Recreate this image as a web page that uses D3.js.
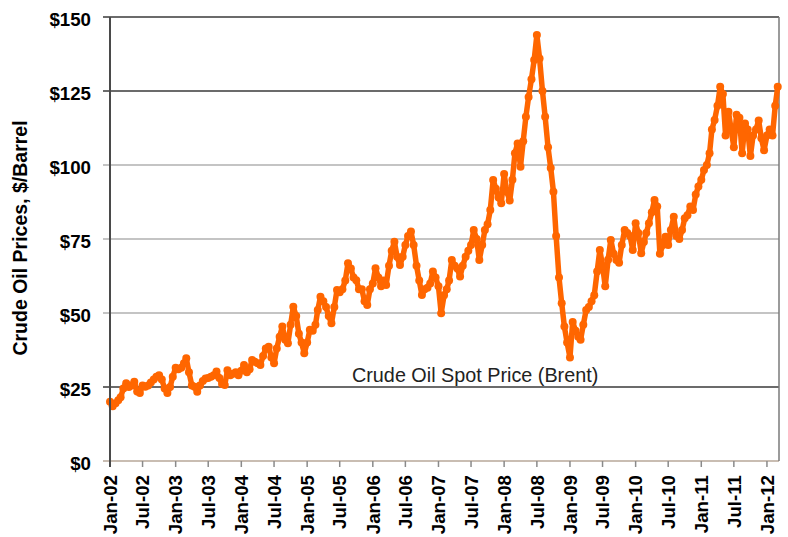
<!DOCTYPE html>
<html>
<head>
<meta charset="utf-8">
<script src="https://cdn.jsdelivr.net/npm/d3@7"></script>
<style>
body { margin: 0; background: #fff; }
text { font-family: Arial, "Liberation Sans", sans-serif; fill: #000; }
</style>
</head>
<body>
<div id="chart"></div>
<script>
var p2002 = [20.0, 18.5, 19.5, 20.5, 21.5, 24.5, 26.3, 25.0, 25.5, 26.8, 23.5, 23.0,
             25.5, 25.1, 25.5, 26.5, 27.5, 28.5, 29.0, 27.5, 24.5, 23.0, 25.0, 28.5];
var p2003 = [31.5, 31.0, 31.5, 33.0, 34.7, 30.0, 25.5, 25.1, 23.4, 25.5, 27.0, 27.9,
             28.0, 28.5, 29.0, 30.2, 28.0, 26.0, 25.7, 30.7, 29.0, 29.5, 30.0, 29.0];
var p2004 = [30.5, 32.4, 30.0, 31.0, 34.1, 33.5, 33.0, 32.4, 35.5, 38.0, 38.6, 35.0,
             33.0, 38.0, 42.0, 45.4, 41.0, 39.8, 46.0, 52.1, 49.0, 43.0, 40.0, 36.4];
var p2005 = [40.0, 44.3, 44.0, 46.0, 51.0, 55.5, 54.0, 52.0, 49.0, 46.5, 52.0, 57.8,
             57.0, 58.0, 61.0, 66.8, 65.0, 62.0, 61.1, 58.0, 58.0, 54.0, 52.7, 58.0];
var p2006 = [60.0, 65.1, 62.0, 59.0, 61.0, 59.5, 66.0, 71.0, 74.1, 69.0, 66.2, 69.0,
             73.0, 76.0, 77.5, 73.0, 66.0, 61.0, 56.1, 58.0, 58.5, 60.0, 64.0, 62.0];
var p2007 = [59.0, 49.9, 56.0, 58.0, 61.0, 67.9, 66.0, 65.0, 62.3, 66.0, 69.0, 71.0,
             73.0, 78.0, 75.0, 67.9, 73.0, 78.0, 80.0, 84.8, 94.9, 92.0, 89.0, 87.1];
var p2008 = [97.0, 91.0, 88.0, 95.0, 104.0, 107.3, 99.4, 108.0, 116.3, 123.0, 129.0, 135.5,
             143.9, 136.0, 125.0, 116.3, 106.0, 99.0, 91.0, 76.0, 62.0, 53.3, 45.4, 40.0];
var p2009 = [35.0, 47.0, 44.0, 42.0, 41.0, 46.0, 51.0, 52.0, 54.0, 56.0, 64.0, 71.3,
             66.0, 59.0, 68.0, 74.7, 70.0, 67.9, 67.0, 73.0, 78.0, 77.0, 76.0, 71.3];
var p2010 = [80.3, 77.0, 70.2, 74.0, 77.0, 80.3, 84.0, 88.2, 86.0, 70.0, 73.0, 75.8,
             73.0, 78.0, 82.5, 76.0, 75.0, 78.0, 82.0, 83.0, 86.0, 84.8, 90.0, 92.7];
var p2011 = [95.0, 98.3, 100.0, 104.0, 112.0, 115.2, 120.0, 126.4, 124.0, 110.0, 118.0, 112.0,
             106.0, 117.0, 116.0, 104.0, 114.0, 112.0, 103.0, 110.0, 112.0, 115.0, 109.0, 105.0];
var p2012 = [110.0, 112.0, 110.0, 120.0, 126.4];

var prices = [].concat(p2002, p2003, p2004, p2005, p2006, p2007, p2008, p2009, p2010, p2011, p2012);
var startDate = new Date(2002, 0, 1); // first reading
var endDate = new Date(2012, 2, 8); // right edge of the date axis
var yTicks = [0, 25, 50, 75, 100, 125, 150];
var yTitle = "Crude Oil Prices, $/Barrel";
var seriesLabel = "Crude Oil Spot Price (Brent)";

var svgWidth = 788;
var svgHeight = 537;
var chartMargin = {top: 17, right: 9, bottom: 76, left: 110};
var chartWidth = svgWidth - chartMargin.left - chartMargin.right;
var chartHeight = svgHeight - chartMargin.top - chartMargin.bottom;

var data = prices.map(function(p, i) { // pair every price with its date
    var d = d3.timeMonth.offset(startDate, Math.floor(i / 2));
    if (i % 2) d = new Date(d.getFullYear(), d.getMonth(), 16);
    return {date: d, price: p};
});

var svg = d3.select("#chart")
    .append("svg")
    .attr("width", svgWidth)
    .attr("height", svgHeight);

var chartGroup = svg.append("g")
    .attr("transform", `translate(${chartMargin.left}, ${chartMargin.top})`);

var xScale = d3.scaleTime()
    .domain([startDate, endDate])
    .range([0, chartWidth]);

var yScale = d3.scaleLinear()
    .domain([0, 150])
    .range([chartHeight, 0]);

var darkLines = [25, 125, 150]; // these grid lines are drawn darker in the original

// horizontal grid lines plus the short ticks left of the axis
chartGroup.append("g")
    .selectAll("line")
    .data(yTicks)
    .enter()
    .append("line")
    .attr("x1", -7)
    .attr("x2", chartWidth)
    .attr("y1", d => yScale(d))
    .attr("y2", d => yScale(d))
    .attr("stroke", d => darkLines.indexOf(d) >= 0 ? "#6b6b6b" : (d === 0 ? "#c9bdb2" : "#c4c4c4"))
    .attr("stroke-width", 2);

// y tick labels
chartGroup.append("g")
    .selectAll("text")
    .data(yTicks)
    .enter()
    .append("text")
    .attr("x", -19)
    .attr("y", d => yScale(d) + 8.5)
    .attr("text-anchor", "end")
    .style("font-size", "18.7px")
    .style("font-weight", "bold")
    .text(d => "$" + d);

// right border
chartGroup.append("line")
    .attr("x1", chartWidth).attr("x2", chartWidth)
    .attr("y1", 0).attr("y2", chartHeight)
    .attr("stroke", "#7a7a7a")
    .attr("stroke-width", 1.5);

// bottom axis ticks and rotated date labels
var xTicks = xScale.ticks(d3.timeMonth.every(6));
var fmt = d3.timeFormat("%b-%y");

chartGroup.append("g")
    .selectAll("line")
    .data(xTicks)
    .enter()
    .append("line")
    .attr("x1", d => xScale(d))
    .attr("x2", d => xScale(d))
    .attr("y1", chartHeight)
    .attr("y2", chartHeight + 6)
    .attr("stroke", "#8a8a8a")
    .attr("stroke-width", 1.5);

chartGroup.append("g")
    .selectAll("text")
    .data(xTicks)
    .enter()
    .append("text")
    .attr("transform", d => `translate(${xScale(d)}, ${chartHeight + 14}) rotate(-90)`)
    .attr("dy", "0.36em")
    .attr("text-anchor", "end")
    .style("font-size", "18.7px")
    .style("font-weight", "bold")
    .text(d => fmt(d));

// the price series: a thick line with dot markers
var line = d3.line()
    .x(d => xScale(d.date))
    .y(d => yScale(d.price));

chartGroup.append("path")
    .datum(data)
    .attr("d", line)
    .attr("fill", "none")
    .attr("stroke", "#ff6600")
    .attr("stroke-width", 5.5)
    .attr("stroke-linejoin", "round");

chartGroup.append("g")
    .selectAll("circle")
    .data(data)
    .enter()
    .append("circle")
    .attr("cx", d => xScale(d.date))
    .attr("cy", d => yScale(d.price))
    .attr("r", 4)
    .attr("fill", "#ff6600");

// left axis line
chartGroup.append("line")
    .attr("x1", 0).attr("x2", 0)
    .attr("y1", 0).attr("y2", chartHeight + 6)
    .attr("stroke", "#4a4a4a")
    .attr("stroke-width", 2);

// series label sitting on the $25 line
chartGroup.append("text")
    .attr("x", 242)
    .attr("y", yScale(25) - 5.5)
    .style("font-size", "19.8px")
    .style("fill", "#222")
    .text(seriesLabel);

// y axis title
svg.append("text")
    .attr("transform", `translate(27, 238) rotate(-90)`)
    .attr("text-anchor", "middle")
    .style("font-size", "19.5px")
    .style("font-weight", "bold")
    .text(yTitle);
</script>
</body>
</html>
